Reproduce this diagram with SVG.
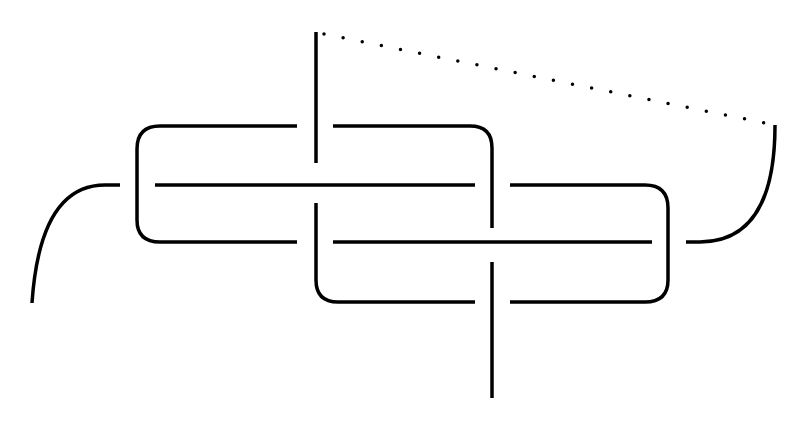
<svg xmlns="http://www.w3.org/2000/svg" width="808" height="430" viewBox="0 0 808 430">
<style>.s{fill:none;stroke:#000;stroke-width:3.5;stroke-linecap:butt}.d{fill:none;stroke:#000;stroke-width:3.5;stroke-linecap:round;stroke-dasharray:0 19.5}</style>
<rect width="808" height="430" fill="#fff"/>
<g id="knot">
<path class="s" d="M120,185 H105 Q40,185 32,303"/>
<path class="s" d="M155,185 H475"/>
<path class="s" d="M510,185 H645 Q668,185 668,208 V280 Q668,302 645,302 H510"/>
<path class="s" d="M475,302 H338 Q316,302 316,280 V203"/>
<path class="s" d="M316,32 V163"/>
<path class="s" d="M297,126 H160 Q137,126 137,149 V220 Q137,242 160,242 H297"/>
<path class="s" d="M333,126 H470 Q492,126 492,148 V228"/>
<path class="s" d="M333,242 H652"/>
<path class="s" d="M686,242 H700 Q775,242 775,125"/>
<path class="s" d="M492,262 V398"/>
</g>
<g id="connectors">
<path class="d" d="M324,34 L775,125"/>
</g>
</svg>
